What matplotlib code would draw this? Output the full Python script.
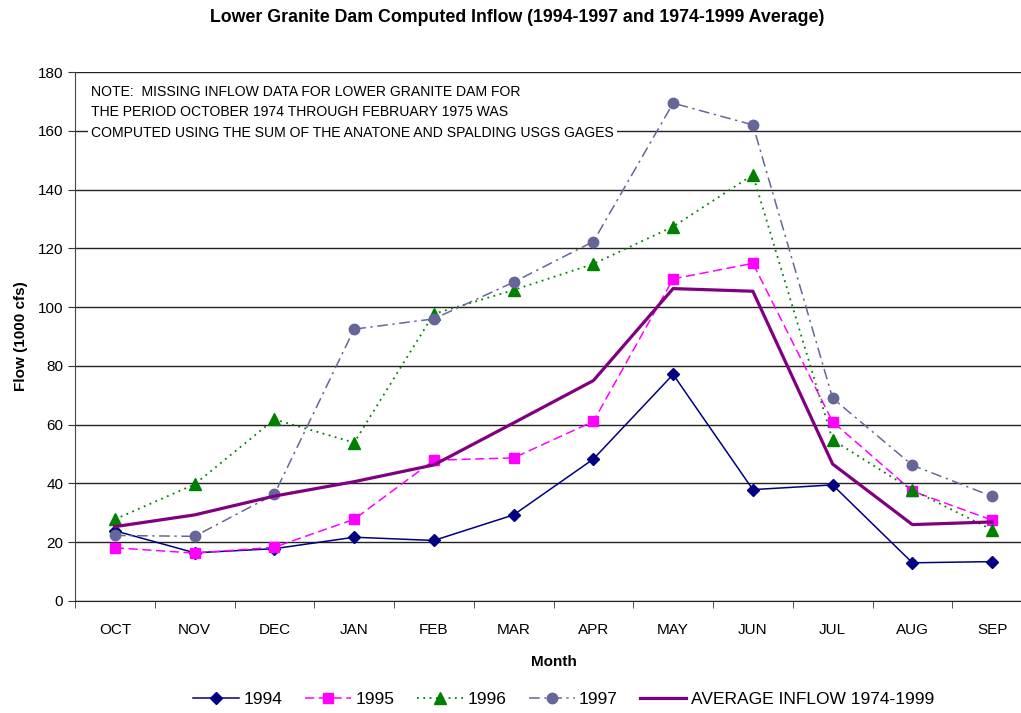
import matplotlib.pyplot as plt
import numpy as np

plt.rcParams['font.family'] = ['Liberation Sans', 'DejaVu Sans']

months = ['OCT', 'NOV', 'DEC', 'JAN', 'FEB', 'MAR', 'APR', 'MAY', 'JUN', 'JUL', 'AUG', 'SEP']
flow_1994 = [23.9, 16.4, 17.8, 21.7, 20.6, 29.3, 48.3, 77.1, 37.9, 39.5, 13.0, 13.4]
flow_1995 = [18.1, 16.3, 18.3, 27.8, 47.9, 48.7, 61.1, 109.6, 114.9, 61.0, 37.4, 27.5]
flow_1996 = [27.8, 39.7, 61.8, 53.9, 97.7, 105.8, 114.7, 127.4, 145.0, 54.8, 37.8, 24.2]
flow_1997 = [22.3, 22.0, 36.3, 92.5, 96.0, 108.5, 122.3, 169.4, 162.0, 69.0, 46.2, 35.6]
flow_avg = [25.3, 29.3, 35.7, 40.6, 46.3, 60.6, 75.0, 106.3, 105.4, 46.6, 26.0, 26.9]

note = ("NOTE:  MISSING INFLOW DATA FOR LOWER GRANITE DAM FOR\n"
        "THE PERIOD OCTOBER 1974 THROUGH FEBRUARY 1975 WAS\n"
        "COMPUTED USING THE SUM OF THE ANATONE AND SPALDING USGS GAGES")

fig = plt.figure(figsize=(10.21, 7.13), dpi=100)
ax = fig.add_axes([75 / 1021, 1 - 601 / 713, (1032 - 75) / 1021, (601 - 72) / 713])

x = np.arange(len(months))
ax.plot(x, flow_1994, color='#000080', lw=1.1, marker='D', ms=6.5, label='1994')
ax.plot(x, flow_1995, color='#ff00ff', lw=1.1, ls=(0, (6, 3)), marker='s', ms=7.5, label='1995')
ax.plot(x, flow_1996, color='#008000', lw=1.3, ls=(0, (1, 2.5)), marker='^', ms=8.5, label='1996')
ax.plot(x, flow_1997, color='#666699', lw=1.1, ls=(0, (7, 3, 1.5, 3)), marker='o', ms=7.5, label='1997')
ax.plot(x, flow_avg, color='#800080', lw=2.3, label='AVERAGE INFLOW 1974-1999')

ax.set_xlim(-0.5, len(months) - 0.5)
ax.set_ylim(0, 180)
ax.set_yticks(np.arange(0, 181, 20))
ax.set_xticks(x)
ax.set_xticklabels(months)
ax.set_xticks(np.arange(-0.5, len(months), 1), minor=True)
ax.tick_params(axis='x', which='major', length=0, pad=16, labelsize=11)
ax.tick_params(axis='x', which='minor', length=5, color='#333333')
ax.tick_params(axis='y', length=5, labelsize=11, color='#333333')
ax.grid(axis='y', color='#222222', lw=1)
ax.set_axisbelow(True)
for s in ['top', 'right']:
    ax.spines[s].set_visible(False)
ax.spines['left'].set_color('#444444')
ax.spines['bottom'].set_color('#222222')

ax.text(0.017, 0.975, note, transform=ax.transAxes, fontsize=10.1, va='top', ha='left',
        linespacing=1.56, bbox=dict(facecolor='white', edgecolor='none', pad=2), zorder=3)

ax.set_xlabel('Month', fontsize=11, fontweight='bold', labelpad=13)
ax.set_ylabel('Flow (1000 cfs)', fontsize=11, fontweight='bold', labelpad=7)
fig.suptitle('Lower Granite Dam Computed Inflow (1994-1997 and 1974-1999 Average)',
             fontsize=12.8, fontweight='bold', x=0.507, y=0.988)

fig.legend(loc='lower center', ncol=5, frameon=False, fontsize=12.5, bbox_to_anchor=(0.552, -0.014),
           handlelength=2.65, columnspacing=1.3, handletextpad=0.25)

fig.savefig('out.png', dpi=100)
